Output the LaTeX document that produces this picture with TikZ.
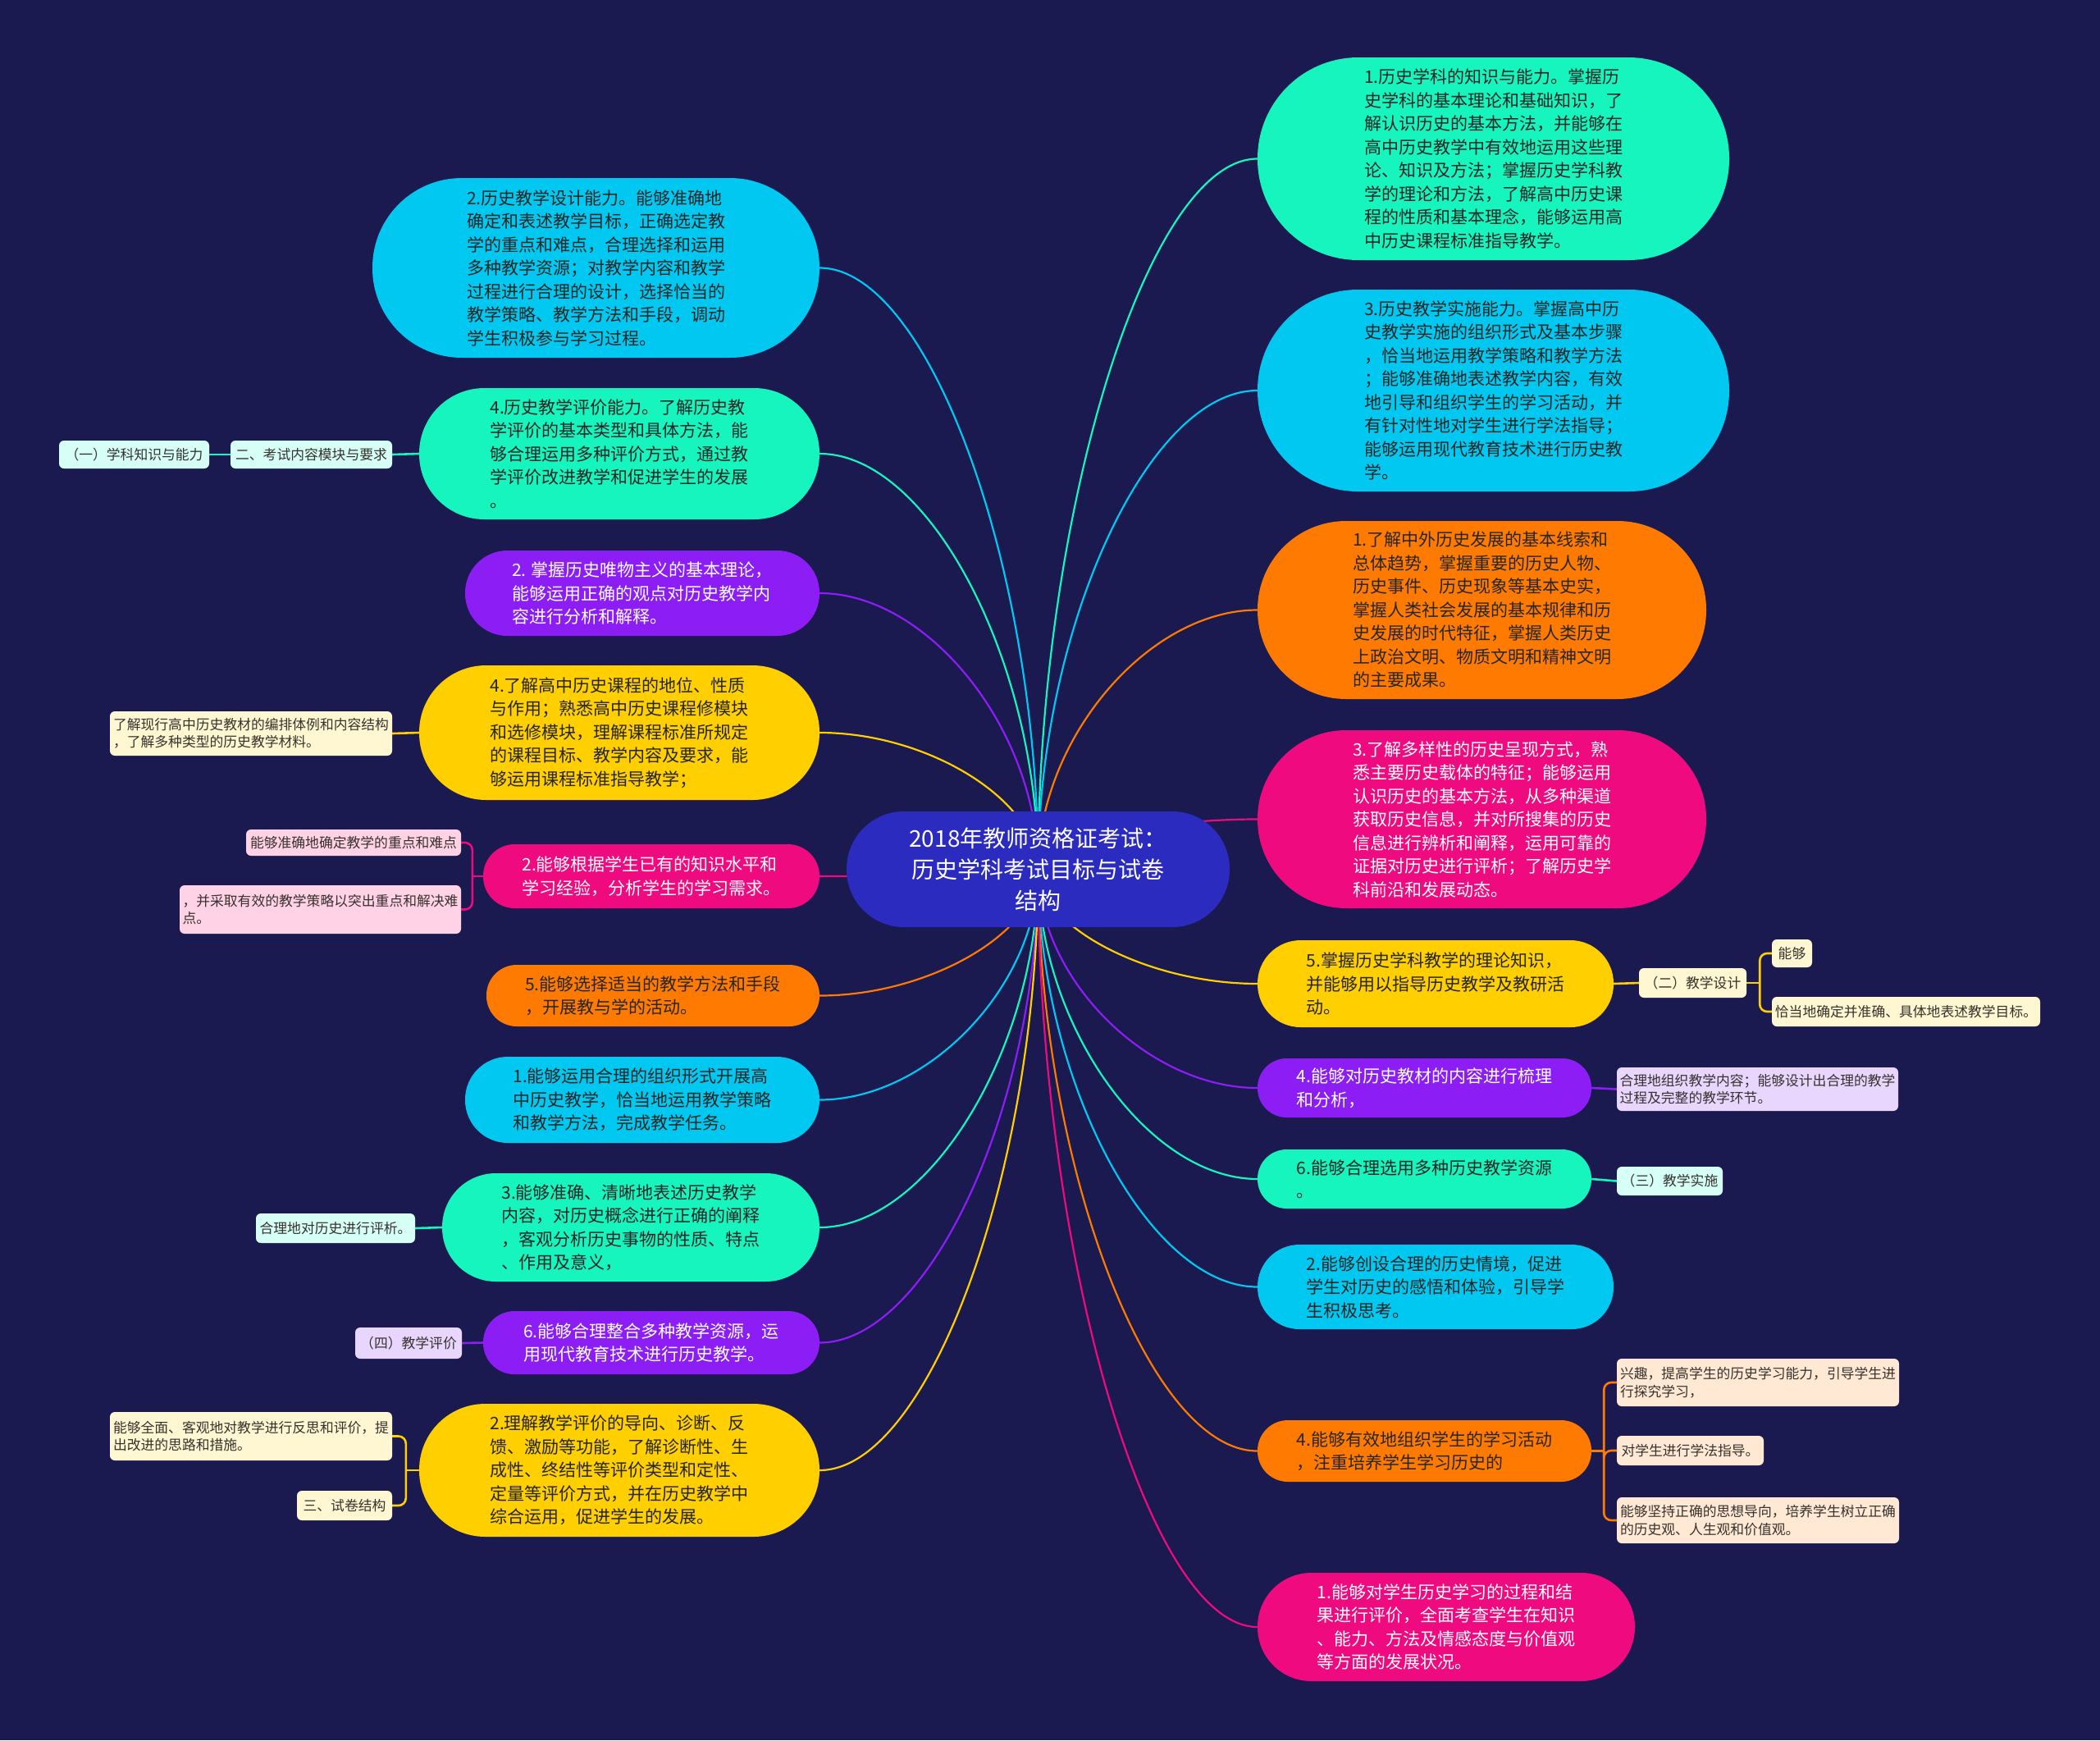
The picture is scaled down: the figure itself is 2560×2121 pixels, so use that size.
\documentclass[tikz,border=0pt]{standalone}
\usepackage{fontspec}
\setmainfont{Noto Sans CJK SC}
\usetikzlibrary{calc}
\pgfdeclarelayer{back}
\pgfdeclarelayer{bg}
\pgfsetlayers{back,bg,main}
\definecolor{bgc}{RGB}{26,25,80}
\definecolor{cyanc}{RGB}{0,200,240}
\definecolor{aquac}{RGB}{22,245,190}
\definecolor{purc}{RGB}{140,30,245}
\definecolor{yelc}{RGB}{255,207,0}
\definecolor{pinc}{RGB}{240,10,128}
\definecolor{orac}{RGB}{255,122,0}
\definecolor{cenc}{RGB}{43,43,192}
\definecolor{mintl}{RGB}{214,255,245}
\definecolor{yell}{RGB}{255,246,210}
\definecolor{pinkl}{RGB}{255,210,230}
\definecolor{lavl}{RGB}{232,214,255}
\definecolor{peachl}{RGB}{255,232,212}
\definecolor{txtd}{RGB}{38,38,38}
\definecolor{txtc}{RGB}{55,50,45}
\tikzset{
  big/.style={inner sep=0pt, align=left, text=txtd, font=\fontsize{21pt}{28.5pt}\selectfont},
  bsz/.style 2 args={minimum width=#1pt, minimum height=#2pt, rounded corners={(#2/2-0.5)*1pt}},
  wtxt/.style={text=white},
  small/.style={inner sep=0pt, align=left, text=txtc, rounded corners=6pt, font=\fontsize{16.8pt}{21.5pt}\selectfont},
  ssz/.style 2 args={minimum width=#1pt, minimum height=#2pt},
  conn/.style={line width=2.2pt},
  sub/.style={line width=2.6pt},
}
\newcommand\lnk[3]{%
  \path ($(#2)!0.5!(#3)$) coordinate (lkm);
  \draw[conn,#1] (#2) .. controls (#2 |- lkm) and (lkm |- #3) .. (#3);
}
\begin{document}
\begin{tikzpicture}[x=1pt,y=-1pt]
\useasboundingbox (0,0) rectangle (2560,2121);
\begin{pgfonlayer}{back}
\fill[bgc] (0,0) rectangle (2560,2121);
\end{pgfonlayer}

% central
\node[inner sep=0pt, fill=cenc, text=white, align=center, minimum width=467pt, minimum height=141pt, rounded corners=70pt, font=\fontsize{28pt}{38pt}\selectfont] (C) at (1265.5,1059.5) {2018年教师资格证考试：\\历史学科考试目标与试卷\\结构};

% left big nodes
\node[big, bsz={545}{219}, fill=cyanc] (L1) at (726.5,326.5) {2.历史教学设计能力。能够准确地\\确定和表述教学目标，正确选定教\\学的重点和难点，合理选择和运用\\多种教学资源；对教学内容和教学\\过程进行合理的设计，选择恰当的\\教学策略、教学方法和手段，调动\\学生积极参与学习过程。};
\node[big, bsz={488}{160}, fill=aquac] (L2) at (755,553) {4.历史教学评价能力。了解历史教\\学评价的基本类型和具体方法，能\\够合理运用多种评价方式，通过教\\学评价改进教学和促进学生的发展\\。};
\node[big, bsz={432}{104}, fill=purc, wtxt] (L3) at (783,723) {2. 掌握历史唯物主义的基本理论，\\能够运用正确的观点对历史教学内\\容进行分析和解释。};
\node[big, bsz={488}{164}, fill=yelc] (L4) at (755,893) {4.了解高中历史课程的地位、性质\\与作用；熟悉高中历史课程修模块\\和选修模块，理解课程标准所规定\\的课程目标、教学内容及要求，能\\够运用课程标准指导教学；};
\node[big, bsz={410}{78}, fill=pinc, wtxt] (L5) at (794,1068) {2.能够根据学生已有的知识水平和\\学习经验，分析学生的学习需求。};
\node[big, bsz={406}{75}, fill=orac] (L6) at (796,1213.5) {5.能够选择适当的教学方法和手段\\，开展教与学的活动。};
\node[big, bsz={432}{105}, fill=cyanc] (L7) at (783,1340.5) {1.能够运用合理的组织形式开展高\\中历史教学，恰当地运用教学策略\\和教学方法，完成教学任务。};
\node[big, bsz={460}{132}, fill=aquac] (L8) at (769,1496) {3.能够准确、清晰地表述历史教学\\内容，对历史概念进行正确的阐释\\，客观分析历史事物的性质、特点\\、作用及意义，};
\node[big, bsz={410}{77}, fill=purc, wtxt] (L9) at (794,1636.5) {6.能够合理整合多种教学资源，运\\用现代教育技术进行历史教学。};
\node[big, bsz={488}{162}, fill=yelc] (L10) at (755,1792) {2.理解教学评价的导向、诊断、反\\馈、激励等功能，了解诊断性、生\\成性、终结性等评价类型和定性、\\定量等评价方式，并在历史教学中\\综合运用，促进学生的发展。};

% right big nodes
\node[big, bsz={575}{247}, fill=aquac] (R1) at (1820.5,193.5) {1.历史学科的知识与能力。掌握历\\史学科的基本理论和基础知识，了\\解认识历史的基本方法，并能够在\\高中历史教学中有效地运用这些理\\论、知识及方法；掌握历史学科教\\学的理论和方法，了解高中历史课\\程的性质和基本理念，能够运用高\\中历史课程标准指导教学。};
\node[big, bsz={575}{246}, fill=cyanc] (R2) at (1820.5,476) {3.历史教学实施能力。掌握高中历\\史教学实施的组织形式及基本步骤\\，恰当地运用教学策略和教学方法\\；能够准确地表述教学内容，有效\\地引导和组织学生的学习活动，并\\有针对性地对学生进行学法指导；\\能够运用现代教育技术进行历史教\\学。};
\node[big, bsz={547}{217}, fill=orac] (R3) at (1806.5,743.5) {1.了解中外历史发展的基本线索和\\总体趋势，掌握重要的历史人物、\\历史事件、历史现象等基本史实，\\掌握人类社会发展的基本规律和历\\史发展的时代特征，掌握人类历史\\上政治文明、物质文明和精神文明\\的主要成果。};
\node[big, bsz={547}{217}, fill=pinc, wtxt] (R4) at (1806.5,998.5) {3.了解多样性的历史呈现方式，熟\\悉主要历史载体的特征；能够运用\\认识历史的基本方法，从多种渠道\\获取历史信息，并对所搜集的历史\\信息进行辨析和阐释，运用可靠的\\证据对历史进行评析；了解历史学\\科前沿和发展动态。};
\node[big, bsz={434}{106}, fill=yelc] (R5) at (1750,1199) {5.掌握历史学科教学的理论知识，\\并能够用以指导历史教学及教研活\\动。};
\node[big, bsz={407}{72}, fill=purc, wtxt] (R6) at (1736.5,1326) {4.能够对历史教材的内容进行梳理\\和分析，};
\node[big, bsz={407}{72}, fill=aquac] (R7) at (1736.5,1437) {6.能够合理选用多种历史教学资源\\。};
\node[big, bsz={434}{103}, fill=cyanc] (R8) at (1750,1568.5) {2.能够创设合理的历史情境，促进\\学生对历史的感悟和体验，引导学\\生积极思考。};
\node[big, bsz={407}{75}, fill=orac] (R9) at (1736.5,1768.5) {4.能够有效地组织学生的学习活动\\，注重培养学生学习历史的};
\node[big, bsz={460}{132}, fill=pinc, wtxt] (R10) at (1763,1983) {1.能够对学生历史学习的过程和结\\果进行评价，全面考查学生在知识\\、能力、方法及情感态度与价值观\\等方面的发展状况。};

% left children
\node[small, ssz={197}{34}, fill=mintl] (Ca) at (379.5,554) {二、考试内容模块与要求};
\node[small, ssz={183}{34}, fill=mintl] (Cb) at (163.5,554) {（一）学科知识与能力};
\node[small, ssz={344}{54}, fill=yell] (Cc) at (306,894) {了解现行高中历史教材的编排体例和内容结构\\，了解多种类型的历史教学材料。};
\node[small, ssz={262}{32}, fill=pinkl] (Cd) at (431,1027) {能够准确地确定教学的重点和难点};
\node[small, ssz={343}{59}, fill=pinkl] (Ce) at (390.5,1108.5) {，并采取有效的教学策略以突出重点和解决难\\点。};
\node[small, ssz={194}{36}, fill=mintl] (Cf) at (409,1497) {合理地对历史进行评析。};
\node[small, ssz={130}{38}, fill=lavl] (Cg) at (498,1637) {（四）教学评价};
\node[small, ssz={344}{59}, fill=yell] (Ch) at (306,1750.5) {能够全面、客观地对教学进行反思和评价，提\\出改进的思路和措施。};
\node[small, ssz={116}{36}, fill=yell] (Ci) at (420,1835) {三、试卷结构};

% right children
\node[small, ssz={131}{36}, fill=yell] (Cj) at (2063.5,1198) {（二）教学设计};
\node[small, ssz={49}{34}, fill=yell] (Ck) at (2184.5,1162) {能够};
\node[small, ssz={327}{36}, fill=yell] (Cl) at (2323.5,1233) {恰当地确定并准确、具体地表述教学目标。};
\node[small, ssz={343}{53}, fill=lavl] (Cm) at (2142.5,1327.5) {合理地组织教学内容；能够设计出合理的教学\\过程及完整的教学环节。};
\node[small, ssz={129}{35}, fill=mintl] (Cn) at (2035.5,1439.5) {（三）教学实施};
\node[small, ssz={344}{58}, fill=peachl] (Co) at (2143,1685) {兴趣，提高学生的历史学习能力，引导学生进\\行探究学习，};
\node[small, ssz={179}{36}, fill=peachl] (Cp) at (2060.5,1768) {对学生进行学法指导。};
\node[small, ssz={344}{56}, fill=peachl] (Cq) at (2143,1853) {能够坚持正确的思想导向，培养学生树立正确\\的历史观、人生观和价值观。};

\begin{pgfonlayer}{bg}
% main curves
\lnk{cyanc}{C.center}{L1.east}
\lnk{aquac}{C.center}{L2.east}
\lnk{purc}{C.center}{L3.east}
\lnk{yelc}{C.center}{L4.east}
\lnk{pinc}{C.center}{L5.east}
\lnk{orac}{C.center}{L6.east}
\lnk{cyanc}{C.center}{L7.east}
\lnk{aquac}{C.center}{L8.east}
\lnk{purc}{C.center}{L9.east}
\lnk{yelc}{C.center}{L10.east}
\lnk{aquac}{C.center}{R1.west}
\lnk{cyanc}{C.center}{R2.west}
\lnk{orac}{C.center}{R3.west}
\lnk{pinc}{C.center}{R4.west}
\lnk{yelc}{C.center}{R5.west}
\lnk{purc}{C.center}{R6.west}
\lnk{aquac}{C.center}{R7.west}
\lnk{cyanc}{C.center}{R8.west}
\lnk{orac}{C.center}{R9.west}
\lnk{pinc}{C.center}{R10.west}

% child links
\draw[sub,aquac] (L2.west) -- (Ca.east);
\draw[sub,aquac] (Ca.west) -- (Cb.east);
\draw[sub,yelc] (L4.west) -- (Cc.east);
\coordinate (b5) at ($(L5.west)+(-13,0)$);
\draw[sub,pinc] (L5.west) -- (b5);
\draw[sub,pinc,rounded corners=9pt] (b5) |- (Cd.east);
\draw[sub,pinc,rounded corners=9pt] (b5) |- (Ce.east);
\draw[sub,aquac] (L8.west) -- (Cf.east);
\draw[sub,purc] (L9.west) -- (Cg.east);
\coordinate (b10) at ($(L10.west)+(-16,0)$);
\draw[sub,yelc] (L10.west) -- (b10);
\draw[sub,yelc,rounded corners=9pt] (b10) |- (Ch.east);
\draw[sub,yelc,rounded corners=9pt] (b10) |- (Ci.east);

\draw[sub,yelc] (R5.east) -- (Cj.west);
\coordinate (bj) at ($(Cj.east)+(16,0)$);
\draw[sub,yelc] (Cj.east) -- (bj);
\draw[sub,yelc,rounded corners=9pt] (bj) |- (Ck.west);
\draw[sub,yelc,rounded corners=9pt] (bj) |- (Cl.west);
\draw[sub,purc] (R6.east) -- (Cm.west);
\draw[sub,aquac] (R7.east) -- (Cn.west);
\coordinate (b9) at ($(R9.east)+(15,0)$);
\draw[sub,orac] (R9.east) -- (b9);
\draw[sub,orac,rounded corners=9pt] (b9) |- (Co.west);
\draw[sub,orac,rounded corners=9pt] (b9) |- (Cp.west);
\draw[sub,orac,rounded corners=9pt] (b9) |- (Cq.west);
\end{pgfonlayer}
\end{tikzpicture}
\end{document}
